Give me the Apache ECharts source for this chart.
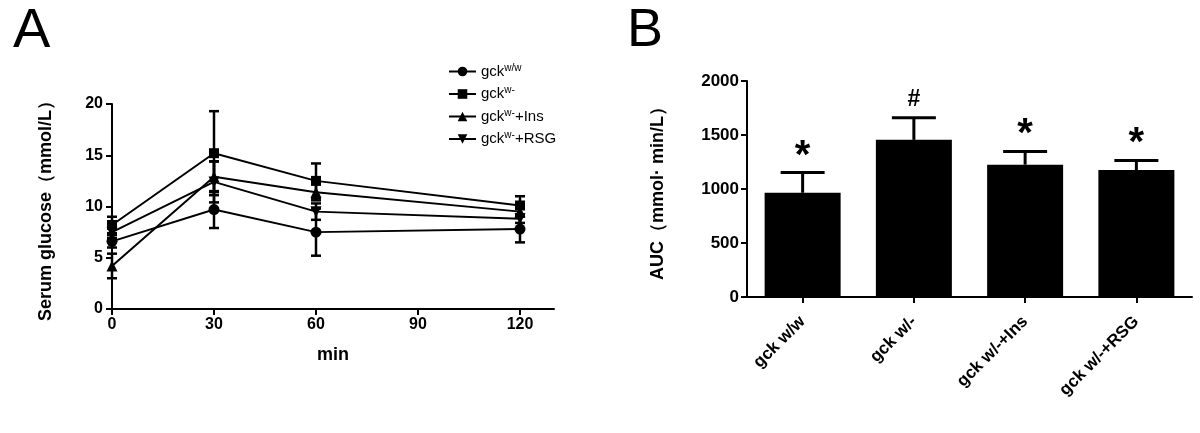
<!DOCTYPE html>
<html><head><meta charset="utf-8">
<script src="https://cdn.jsdelivr.net/npm/echarts@6/dist/echarts.min.js"></script>
<style>html,body{margin:0;padding:0;background:#fff}#c{width:1200px;height:433px}</style>
</head><body><div id="c"></div>
<script>
// ---- Panel A data ----
const timePoints = [0, 30, 60, 120];
const timeTicks = [0, 30, 60, 90, 120];
const seriesNames = ['gck w/w', 'gck w/-', 'gck w/-+Ins', 'gck w/-+RSG'];
const legendSup = ['w/w', 'w-', 'w-', 'w-'];
const legendSuffix = ['', '', '+Ins', '+RSG'];
const glucoseWW = [6.6, 9.7, 7.5, 7.8];
const glucoseWM = [8.2, 15.2, 12.5, 10.1];
const glucoseIns = [4.2, 12.9, 11.4, 9.5];
const glucoseRSG = [7.5, 12.4, 9.5, 8.8];
const errWW = [0.6, 1.8, 2.3, 1.3];
const errWM = [0.8, 4.1, 1.7, 0.9];
const errIns = [1.2, 1.5, 0.8, 0.5];
const errRSG = [0.6, 2.0, 0.8, 0.4];
// ---- Panel B data ----
const aucCategories = ['gck w/w', 'gck w/-', 'gck w/-+Ins', 'gck w/-+RSG'];
const aucValues = [965, 1455, 1225, 1175];
const aucErr = [187, 205, 123, 90];
const aucMarks = ['*', '#', '*', '*'];

const FONT = 'Liberation Sans, Arial, sans-serif';
const invTri = 'path://M0,0 L10,0 L5,9 Z';
const symbols = ['circle', 'rect', 'triangle', invTri];
const groupVals = [glucoseWW, glucoseWM, glucoseIns, glucoseRSG];
const groupErrs = [errWW, errWM, errIns, errRSG];

const chart = echarts.init(document.getElementById('c'), null, {renderer: 'canvas'});

function lineSeries(i) {
  return {
    name: seriesNames[i], type: 'line', xAxisIndex: 0, yAxisIndex: 0,
    data: timePoints.map((t, k) => [t, groupVals[i][k]]),
    symbol: symbols[i], symbolSize: i === 1 ? 10 : 11, showAllSymbol: true,
    lineStyle: {color: '#000', width: 2}, itemStyle: {color: '#000'},
    z: 4, animation: false
  };
}
function errSeries(i) {
  return {
    type: 'custom', xAxisIndex: 0, yAxisIndex: 0, silent: true, z: 3, animation: false,
    data: timePoints.map((t, k) => [t, groupVals[i][k], groupErrs[i][k]]),
    renderItem(params, api) {
      const x = api.value(0), v = api.value(1), e = api.value(2);
      const hi = api.coord([x, v + e]), lo = api.coord([x, v - e]);
      const w = 5, st = {stroke: '#000', lineWidth: 2.5};
      return {type: 'group', children: [
        {type: 'line', shape: {x1: hi[0], y1: hi[1], x2: lo[0], y2: lo[1]}, style: st},
        {type: 'line', shape: {x1: hi[0] - w, y1: hi[1], x2: hi[0] + w, y2: hi[1]}, style: st},
        {type: 'line', shape: {x1: lo[0] - w, y1: lo[1], x2: lo[0] + w, y2: lo[1]}, style: st}
      ]};
    }
  };
}

const axisLine = {show: true, lineStyle: {color: '#000', width: 2}};
const axisTick = {show: true, length: 6, lineStyle: {color: '#000', width: 2}};
const boldLabel = (sz) => ({color: '#000', fontSize: sz, fontWeight: 'bold', fontFamily: FONT});

const option = {
  backgroundColor: '#fff',
  animation: false,
  graphic: [
    {type: 'text', left: 13, top: 4, style: {text: 'A', fontSize: 56, fontFamily: FONT, fill: '#000'}},
    {type: 'text', left: 627, top: 4, style: {text: 'B', fontSize: 54, fontFamily: FONT, fill: '#000'}}
  ],
  legend: {
    data: seriesNames, orient: 'vertical', left: 443, top: 58,
    itemWidth: 27, itemHeight: 12, itemGap: 6.5,
    formatter(name) {
      const i = seriesNames.indexOf(name);
      return '{a|gck}{s|' + legendSup[i] + '}' + (legendSuffix[i] ? '{a|' + legendSuffix[i] + '}' : '');
    },
    textStyle: {
      color: '#000', fontFamily: FONT, fontSize: 15,
      rich: {
        a: {fontSize: 15, fontFamily: FONT, color: '#000', lineHeight: 17},
        s: {fontSize: 10, fontFamily: FONT, color: '#000', lineHeight: 10, verticalAlign: 'top'}
      }
    }
  },
  grid: [
    {left: 112, top: 104, width: 442, height: 205},
    {left: 747, top: 81, width: 445, height: 216}
  ],
  xAxis: [
    {
      type: 'value', gridIndex: 0, min: 0, max: 130,
      axisLine, axisTick: Object.assign({}, axisTick, {customValues: timeTicks}),
      axisLabel: Object.assign(boldLabel(16), {margin: 8, customValues: timeTicks}),
      splitLine: {show: false},
      name: 'min', nameLocation: 'middle', nameGap: 37,
      nameTextStyle: boldLabel(18)
    },
    {
      type: 'category', gridIndex: 1, data: aucCategories, boundaryGap: true,
      axisLine, axisTick: Object.assign({}, axisTick, {alignWithLabel: true}),
      axisLabel: Object.assign(boldLabel(17), {rotate: 45, interval: 0, margin: 22}),
      splitLine: {show: false}
    }
  ],
  yAxis: [
    {
      type: 'value', gridIndex: 0, min: 0, max: 20, interval: 5,
      axisLine, axisTick, axisLabel: Object.assign(boldLabel(16), {margin: 9}),
      splitLine: {show: false},
      name: 'Serum glucose（mmol/L）', nameLocation: 'middle', nameGap: 57, nameRotate: 90,
      nameTextStyle: boldLabel(18)
    },
    {
      type: 'value', gridIndex: 1, min: 0, max: 2000, interval: 500,
      axisLine, axisTick,
      axisLabel: Object.assign(boldLabel(17), {margin: 8, formatter: (v) => String(v)}),
      splitLine: {show: false},
      name: 'AUC（mmol· min/L）', nameLocation: 'middle', nameGap: 80, nameRotate: 90,
      nameTextStyle: boldLabel(18)
    }
  ],
  series: [
    errSeries(0), errSeries(1), errSeries(2), errSeries(3),
    lineSeries(0), lineSeries(1), lineSeries(2), lineSeries(3),
    {
      type: 'bar', xAxisIndex: 1, yAxisIndex: 1, data: aucValues, barWidth: 76,
      itemStyle: {color: '#000'}, z: 2, animation: false
    },
    {
      type: 'custom', xAxisIndex: 1, yAxisIndex: 1, silent: true, z: 3, animation: false,
      data: aucValues.map((v, i) => [i, v, aucErr[i]]),
      renderItem(params, api) {
        const x = api.value(0), v = api.value(1), e = api.value(2);
        const base = api.coord([x, v]), hi = api.coord([x, v + e]);
        const w = 22, st = {stroke: '#000', lineWidth: 3};
        const mark = aucMarks[params.dataIndex];
        const isStar = mark === '*';
        return {type: 'group', children: [
          {type: 'line', shape: {x1: base[0], y1: base[1], x2: hi[0], y2: hi[1]}, style: st},
          {type: 'line', shape: {x1: hi[0] - w, y1: hi[1], x2: hi[0] + w, y2: hi[1]}, style: st},
          {type: 'text', x: hi[0], y: hi[1] - (isStar ? 16 : 18),
            style: {text: mark, fontSize: isStar ? 40 : 23, fontWeight: 'bold', fontFamily: FONT,
              fill: '#000', align: 'center', verticalAlign: 'middle'}}
        ]};
      }
    }
  ]
};
chart.setOption(option);
</script>
</body></html>
